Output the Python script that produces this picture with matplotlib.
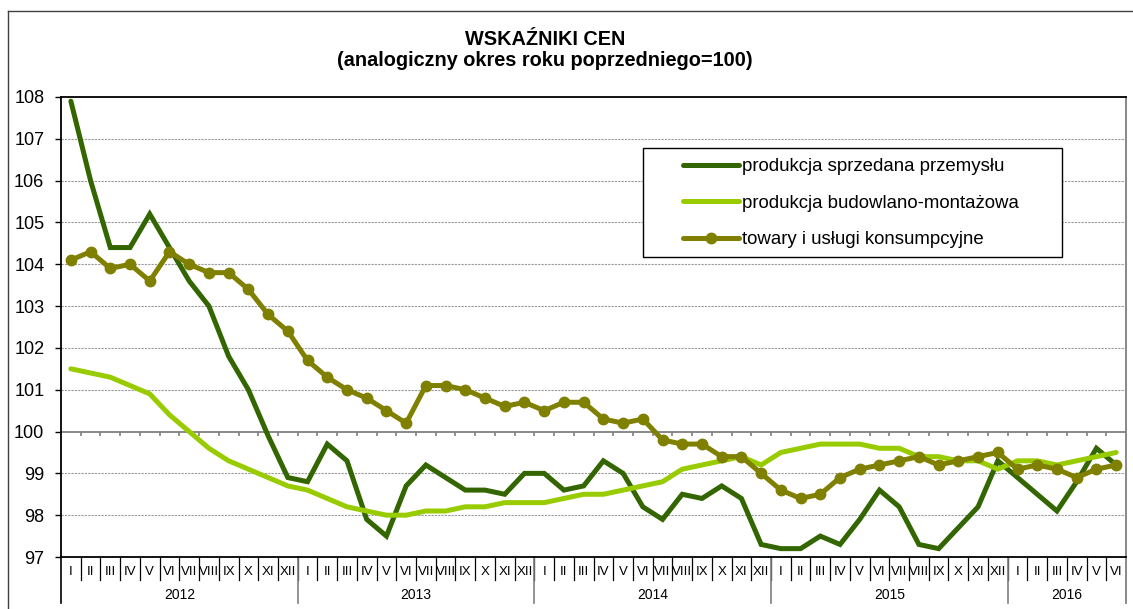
import numpy as np
import matplotlib
matplotlib.use("Agg")
import matplotlib.pyplot as plt
from matplotlib.lines import Line2D
from matplotlib.patches import Rectangle
import matplotlib.transforms as mtransforms

plt.rcParams["font.family"] = ["Liberation Sans", "DejaVu Sans"]

# Data
roman = ["I", "II", "III", "IV", "V", "VI", "VII", "VIII", "IX", "X", "XI", "XII"]
months = roman * 4 + roman[:6]
years = ["2012", "2013", "2014", "2015", "2016"]
months_per_year = [12, 12, 12, 12, 6]

przemysl = [107.9, 106.0, 104.4, 104.4, 105.2, 104.4, 103.6, 103.0, 101.8, 101.0, 99.9, 98.9,
            98.8, 99.7, 99.3, 97.9, 97.5, 98.7, 99.2, 98.9, 98.6, 98.6, 98.5, 99.0,
            99.0, 98.6, 98.7, 99.3, 99.0, 98.2, 97.9, 98.5, 98.4, 98.7, 98.4, 97.3,
            97.2, 97.2, 97.5, 97.3, 97.9, 98.6, 98.2, 97.3, 97.2, 97.7, 98.2, 99.3,
            98.9, 98.5, 98.1, 98.8, 99.6, 99.2]
budowlano = [101.5, 101.4, 101.3, 101.1, 100.9, 100.4, 100.0, 99.6, 99.3, 99.1, 98.9, 98.7,
             98.6, 98.4, 98.2, 98.1, 98.0, 98.0, 98.1, 98.1, 98.2, 98.2, 98.3, 98.3,
             98.3, 98.4, 98.5, 98.5, 98.6, 98.7, 98.8, 99.1, 99.2, 99.3, 99.4, 99.2,
             99.5, 99.6, 99.7, 99.7, 99.7, 99.6, 99.6, 99.4, 99.4, 99.3, 99.3, 99.1,
             99.3, 99.3, 99.2, 99.3, 99.4, 99.5]
konsumpcyjne = [104.1, 104.3, 103.9, 104.0, 103.6, 104.3, 104.0, 103.8, 103.8, 103.4, 102.8, 102.4,
                101.7, 101.3, 101.0, 100.8, 100.5, 100.2, 101.1, 101.1, 101.0, 100.8, 100.6, 100.7,
                100.5, 100.7, 100.7, 100.3, 100.2, 100.3, 99.8, 99.7, 99.7, 99.4, 99.4, 99.0,
                98.6, 98.4, 98.5, 98.9, 99.1, 99.2, 99.3, 99.4, 99.2, 99.3, 99.4, 99.5,
                99.1, 99.2, 99.1, 98.9, 99.1, 99.2]

labels = ["produkcja sprzedana przemysłu", "produkcja budowlano-montażowa",
          "towary i usługi konsumpcyjne"]

W, H = 1133, 609
fig = plt.figure(figsize=(W / 100, H / 100), dpi=100)
ax = fig.add_axes([61 / W, 1 - 557 / H, (1126 - 61) / W, (557 - 97) / H])

x = np.arange(len(months))
n = len(months)

# gridlines
for v in range(98, 108):
    if v == 100:
        continue
    ax.axhline(v, color="#9a9a9a", lw=0.8, ls=(0, (2, 1)), zorder=1)
ax.axhline(100, color="#7f7f7f", lw=1.3, zorder=1)
bounds = np.arange(n + 1) - 0.5
ax.vlines(bounds[1:-1], 99.9, 100, color="#7f7f7f", lw=1.2, zorder=1)

ax.plot(x, przemysl, color="#336600", lw=3.6, solid_capstyle="round",
        solid_joinstyle="miter", label=labels[0], zorder=3)
ax.plot(x, budowlano, color="#99CC00", lw=3.6, solid_capstyle="round",
        label=labels[1], zorder=3)
ax.plot(x, konsumpcyjne, color="#808000", lw=3.6, marker="o", markersize=7.5,
        solid_capstyle="round", label=labels[2], zorder=3)

ax.set_xlim(-0.5, n - 0.5)
ax.set_ylim(97, 108)
ax.set_yticks(range(97, 109))
ax.tick_params(axis="y", direction="out", length=4, width=1, labelsize=13, pad=8)
ax.set_xticks([])

for s in ["left", "top", "bottom"]:
    ax.spines[s].set_color("black")
    ax.spines[s].set_linewidth(1.3)
ax.spines["right"].set_color("#7f7f7f")
ax.spines["right"].set_linewidth(1.3)

# category axis below the plot
trans = mtransforms.blended_transform_factory(ax.transData, ax.transAxes)
for i, m in enumerate(months):
    ax.text(i, -15 / 460, m, transform=trans, ha="center", va="center", fontsize=9.5)
for b in bounds[1:-1]:
    ax.plot([b, b], [0, -23 / 460], transform=trans, color="black", lw=0.9, clip_on=False)
start = 0
year_bounds = [-0.5]
for y, k in zip(years, months_per_year):
    ax.text(start + (k - 1) / 2, -38 / 460, y, transform=trans, ha="center",
            va="center", fontsize=10)
    start += k
    year_bounds.append(start - 0.5)
for b in year_bounds[:-1]:
    ax.plot([b, b], [0, -46 / 460], transform=trans, color="black" if b < 0 else "#7f7f7f",
            lw=1.2, clip_on=False)
ax.plot([n - 0.5, n - 0.5], [0, -46 / 460], transform=trans, color="#7f7f7f",
        lw=1.3, clip_on=False)

# legend
ax.add_patch(Rectangle(((643 - 61) / 1065, (557 - 257) / 460), (1062 - 643) / 1065,
                       (257 - 148) / 460, transform=ax.transAxes, fill=True,
                       facecolor="white", edgecolor="black", lw=1.0, zorder=4))
leg = ax.legend(loc="upper left", bbox_to_anchor=((683 - 61) / 1065, (557 - 158) / 460),
                frameon=False, fontsize=13.4, handlelength=3.0, handletextpad=0.15,
                labelspacing=1.05, borderpad=0, borderaxespad=0)
leg.set_zorder(5)

# title
fig.text(545 / W, 1 - 45 / H, "WSKAŹNIKI CEN", ha="center", va="baseline",
         fontsize=14.3, fontweight="bold")
fig.text(545 / W, 1 - 66 / H, "(analogiczny okres roku poprzedniego=100)",
         ha="center", va="baseline", fontsize=14.3, fontweight="bold")

# outer frame
fig.add_artist(Line2D([8 / W, 1], [1 - 11 / H, 1 - 11 / H], transform=fig.transFigure,
                      color="#404040", lw=1))
fig.add_artist(Line2D([8 / W, 8 / W], [0, 1 - 11 / H], transform=fig.transFigure,
                      color="#404040", lw=1))

fig.savefig("out.png", dpi=100)
